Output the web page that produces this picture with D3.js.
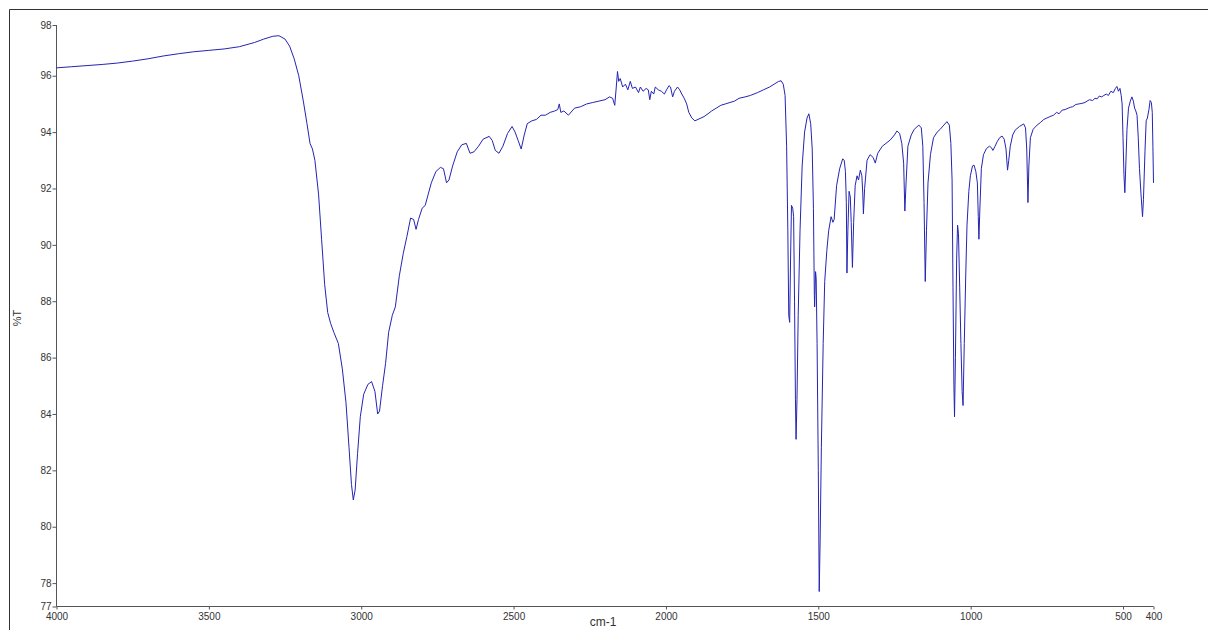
<!DOCTYPE html>
<html>
<head>
<meta charset="utf-8">
<script src="https://cdn.jsdelivr.net/npm/d3@7"></script>
<style>
  html, body { margin: 0; padding: 0; background: #fff; }
  svg { display: block; }
  text { font-family: "Liberation Sans", Arial, sans-serif; }
</style>
</head>
<body>
<svg id="chart" width="1208" height="630"></svg>
<script>
// Wavenumbers (cm-1), descending
const wavenumbers = [
4000,3950,3900,3850,3800,3750,3700,3650,3600,3550,3500,3450,3400,3350,3320,3290,3270,3250,3235,3220,3205,3190,3178,3168,3160,3152,3140,3130,3120,3110,3100,3090,3075,3062,3050,3040,3032,3026,3020,3012,3003,2992,2978,2966,2955,2946,2940,2930,2920,2910,2898,2888,2875,2862,2850,2838,2828,2820,2812,2800,2790,2780,2770,2755,2740,2730,2720,2712,2700,2685,2670,2655,2643,2630,2615,2600,2580,2570,2560,2548,2535,2520,2505,2495,2485,2475,2465,2455,2440,2425,2410,2395,2380,2365,2355,2350,2345,2335,2320,2300,2280,2260,2240,2220,2200,2185,2175,2168,2163,2159,2155,2150,2142,2133,2125,2117,2110,2100,2090,2084,2075,2065,2058,2053,2048,2040,2035,2025,2015,2005,1998,1990,1985,1978,1972,1962,1955,1948,1940,1932,1925,1915,1905,1895,1885,1875,1862,1850,1835,1820,1805,1790,1775,1760,1740,1723,1700,1680,1660,1645,1630,1622,1615,1609,1604,1600,1597,1594,1591,1588,1584,1581,1578,1575,1573,1570,1566,1560,1553,1545,1537,1531,1525,1520,1516,1513,1512,1509,1507,1504,1500,1497,1494,1490,1484,1479,1472,1466,1458,1452,1448,1440,1430,1420,1415,1411,1408,1406,1403,1399,1395,1392,1388,1384,1379,1373,1368,1362,1357,1354,1352,1348,1340,1330,1320,1313,1305,1290,1278,1264,1250,1242,1233,1226,1220,1216,1212,1206,1195,1185,1170,1162,1157,1153,1149,1145,1140,1132,1122,1110,1100,1088,1078,1070,1065,1061,1058,1055,1053,1050,1046,1043,1040,1036,1032,1028,1025,1021,1016,1012,1006,1001,994,989,983,978,975,973,970,965,958,948,938,932,927,920,913,905,897,890,884,879,875,870,862,854,840,826,820,816,812,809,804,795,782,770,760,750,740,728,718,710,700,690,680,673,665,655,645,635,625,618,610,600,592,585,578,570,563,555,548,540,532,525,520,515,510,506,503,500,497,494,491,487,482,476,471,466,462,458,454,450,446,441,436,433,428,424,420,415,411,407,404,402,400
];
// Transmittance (%T)
const transmittance = [
96.28,96.32,96.36,96.40,96.45,96.52,96.60,96.70,96.78,96.85,96.90,96.95,97.03,97.18,97.30,97.40,97.42,97.30,97.05,96.6,96.0,95.1,94.3,93.6,93.4,93.0,91.8,90.2,88.6,87.6,87.2,86.9,86.5,85.6,84.4,82.8,81.5,80.95,81.3,82.6,83.9,84.7,85.05,85.15,84.8,84.0,84.1,85.0,85.8,86.9,87.5,87.8,88.9,89.7,90.3,90.95,90.9,90.55,90.9,91.3,91.4,91.8,92.2,92.6,92.75,92.7,92.2,92.3,92.8,93.3,93.55,93.6,93.25,93.3,93.5,93.75,93.85,93.7,93.35,93.25,93.5,93.95,94.2,94.0,93.7,93.4,93.9,94.3,94.4,94.45,94.6,94.6,94.7,94.75,94.8,95.0,94.7,94.75,94.6,94.85,94.9,95.0,95.05,95.1,95.15,95.25,95.2,94.95,95.6,96.15,95.8,95.9,95.6,95.7,95.5,95.8,95.55,95.6,95.4,95.6,95.45,95.55,95.5,95.15,95.45,95.35,95.6,95.5,95.45,95.35,95.5,95.65,95.6,95.25,95.45,95.6,95.5,95.35,95.2,95.0,94.7,94.5,94.4,94.45,94.5,94.55,94.65,94.75,94.85,94.95,95.0,95.05,95.1,95.2,95.25,95.3,95.4,95.5,95.6,95.7,95.8,95.82,95.7,95.3,93.5,90.5,87.5,87.25,89.5,91.4,91.3,91.0,88.0,84.5,83.1,84.5,87.5,90.5,92.8,94.0,94.5,94.65,94.3,93.4,91.3,88.2,87.8,89.05,88.8,86.5,82.0,77.7,79.5,82.8,86.5,88.7,89.8,90.5,91.0,90.8,90.9,92.1,92.7,93.05,93.0,92.6,91.5,89.0,90.5,91.9,91.7,90.8,89.2,90.8,92.1,92.45,92.3,92.65,92.45,91.8,91.1,92.0,93.0,93.2,93.1,92.9,93.25,93.5,93.6,93.72,93.9,94.04,93.95,93.6,92.9,91.2,92.2,93.5,93.9,94.1,94.25,94.15,93.5,91.5,88.7,90.5,92.2,93.2,93.8,94.0,94.1,94.25,94.37,94.25,93.6,92.3,88.5,85.0,83.9,86.0,89.5,90.7,90.4,88.5,86.5,84.8,84.3,86.5,89.0,90.7,91.9,92.45,92.8,92.83,92.6,92.2,91.0,90.2,91.2,92.7,93.2,93.42,93.5,93.45,93.35,93.5,93.66,93.8,93.86,93.75,93.4,92.65,93.0,93.5,93.9,94.07,94.2,94.29,94.15,93.4,91.5,92.8,93.8,94.1,94.25,94.35,94.45,94.5,94.55,94.6,94.7,94.65,94.78,94.8,94.85,94.88,94.9,94.98,95.0,95.02,95.05,95.1,95.15,95.12,95.2,95.18,95.28,95.25,95.3,95.35,95.3,95.45,95.4,95.55,95.62,95.45,95.55,95.3,95.0,93.8,92.5,91.85,92.8,94.1,94.85,95.1,95.25,95.1,94.85,94.75,94.6,93.8,92.7,91.8,91.0,91.6,93.3,94.4,94.5,94.8,95.12,95.05,94.7,93.5,92.2
];
// Axis tick values
const xTicks = [4000, 3500, 3000, 2500, 2000, 1500, 1000, 500, 400];
const yTicksInner = [78, 80, 82, 84, 86, 88, 90, 92, 94, 96];
const yMin = 77.17, yMax = 97.8;
const xLabel = "cm-1";
const yLabel = "%T";

if (wavenumbers.length !== transmittance.length) {
  throw new Error("length mismatch " + wavenumbers.length + " vs " + transmittance.length);
}
const data = wavenumbers.map((w, i) => ({ w, t: transmittance[i] }));

const svg = d3.select("#chart");
const mLeft = 56.5, mRight = 1153.5, mTop = 25, mBottom = 606.5;

// outer frame (extends beyond the picture at right and bottom)
svg.append("path")
  .attr("d", "M9.5,640 L9.5,9.5 L1220,9.5")
  .attr("fill", "none").attr("stroke", "#333").attr("stroke-width", 1);

const x = d3.scaleLinear().domain([4000, 400]).range([mLeft, mRight]);
const y = d3.scaleLinear().domain([yMin, yMax]).range([mBottom, mTop]);

const axisColor = "#555";
const textColor = "#333";

const xAxis = svg.append("g")
  .attr("transform", `translate(0,${mBottom})`)
  .call(d3.axisBottom(x).tickValues(xTicks).tickSize(3).tickPadding(3).tickFormat(d3.format("d")));
const yAxis = svg.append("g")
  .attr("transform", `translate(${mLeft},0)`)
  .call(d3.axisLeft(y).tickValues([yMin, ...yTicksInner, yMax]).tickSize(4).tickPadding(1).tickFormat(d3.format(".0f")));

[xAxis, yAxis].forEach(g => {
  g.select(".domain").attr("stroke", axisColor);
  g.selectAll(".tick line").attr("stroke", axisColor);
  g.selectAll(".tick text").attr("fill", textColor).style("font-size", "10px")
    .style("font-family", "'Liberation Sans', Arial, sans-serif");
});
xAxis.select(".domain").attr("d", `M${mLeft},0H${mRight}`);
yAxis.select(".domain").attr("d", `M0,${mTop}V${mBottom}`);

// axis titles
svg.append("text").attr("x", 603).attr("y", 626)
  .attr("text-anchor", "middle").attr("fill", textColor)
  .style("font-size", "12px").text(xLabel);
svg.append("text")
  .attr("transform", `translate(21,318) rotate(-90)`)
  .attr("text-anchor", "middle").attr("fill", textColor)
  .style("font-size", "11px").text(yLabel);

// spectrum
const line = d3.line().x(d => x(d.w)).y(d => y(d.t));
svg.append("path").datum(data)
  .attr("d", line)
  .attr("fill", "none")
  .attr("stroke", "#2424b4")
  .attr("stroke-width", 1)
  .attr("stroke-linejoin", "round");
</script>
</body>
</html>
